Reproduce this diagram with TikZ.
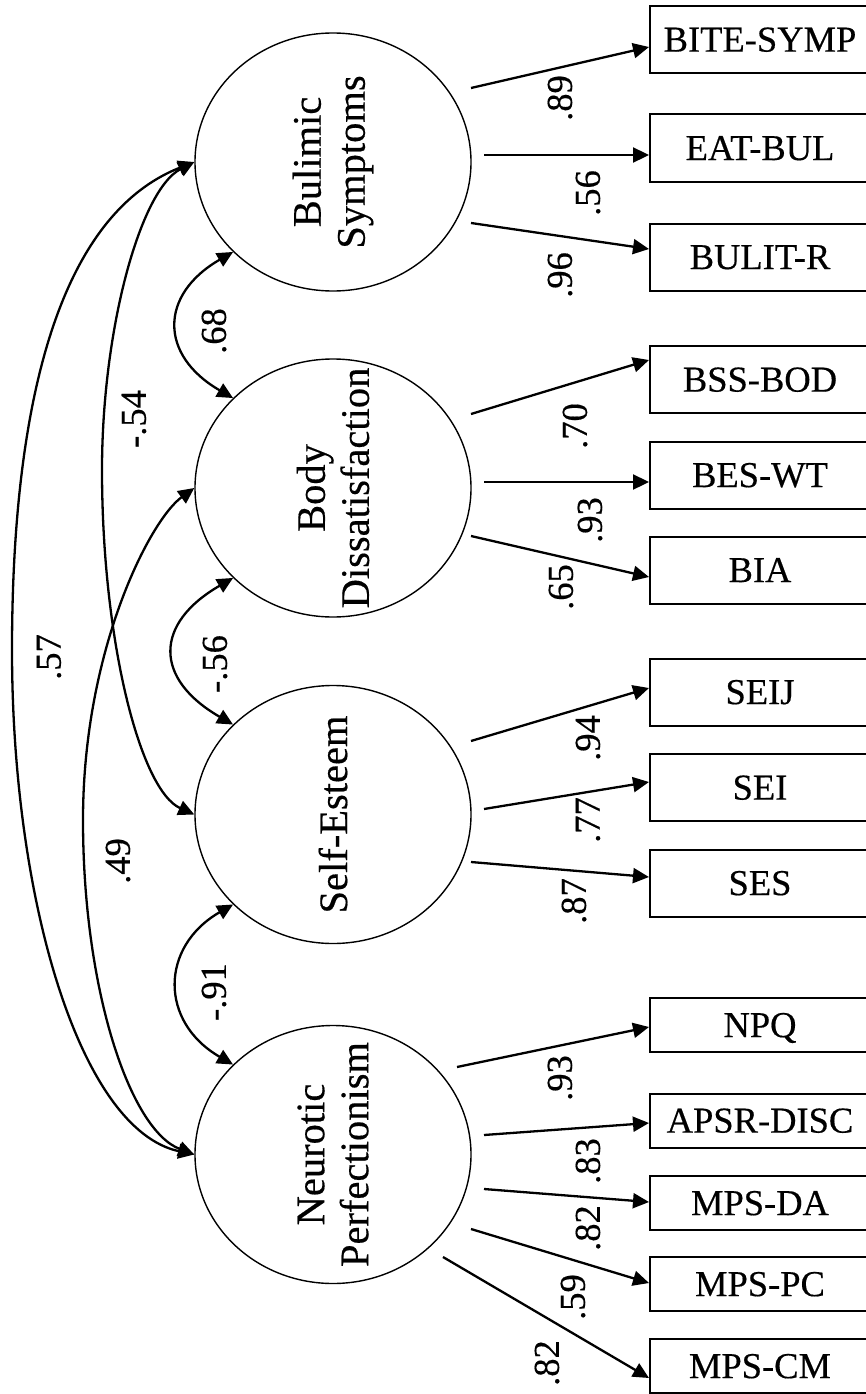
\documentclass[tikz,border=0pt]{standalone}
\usepackage{fontspec}
\setmainfont{Liberation Serif}[FakeBold=0.4]
\usetikzlibrary{arrows.meta,shapes.geometric,calc}

\begin{document}
\begin{tikzpicture}[x=1pt,y=1pt,
  latent/.style={ellipse, draw, line width=1.4pt, minimum width=276pt,
    minimum height=258pt, inner sep=0pt},
  lname/.style={rotate=90, align=center, inner sep=0pt,
    font=\fontsize{40.5}{44}\selectfont},
  indicator/.style={rectangle, draw, line width=2pt, minimum width=220pt,
    inner sep=0pt, text height=24.2pt, text depth=0pt,
    font=\fontsize{36.5}{40}\selectfont},
  indtall/.style={minimum height=67pt},
  indshort/.style={minimum height=54pt},
  coef/.style={rotate=90, inner sep=0pt, font=\fontsize{36.5}{40}\selectfont},
  tip/.tip={Triangle[length=16pt,width=15pt]},
  load/.style={line width=2.3pt, -tip},
  cov/.style={line width=2.3pt, tip-tip},
]
\useasboundingbox (0,0) rectangle (865,-1394);
\fill[white] (0,0) rectangle (865,-1394);

% latent factors
\node[latent] (bs) at (333,-162) {};
\node[latent] (bd) at (333,-488) {};
\node[latent] (se) at (333,-814.5) {};
\node[latent] (np) at (333,-1154.5) {};
\node[lname] (bs-t) at (bs) {Bulimic\\Symptoms};
\node[lname] (bd-t) at (bd) {Body\\Dissatisfaction};
\node[lname] (se-t) at (se) {Self-Esteem};
\node[lname] (np-t) at (np) {Neurotic\\Perfectionism};

% observed indicators
\node[indicator, indtall] (b1) at (760,-39.5) {BITE-SYMP};
\node[indicator, indtall] (b2) at (760,-148) {EAT-BUL};
\node[indicator, indtall] (b3) at (760,-257) {BULIT-R};
\node[indicator, indtall] (b4) at (760,-379.5) {BSS-BOD};
\node[indicator, indtall] (b5) at (760,-475) {BES-WT};
\node[indicator, indtall] (b6) at (760,-570) {BIA};
\node[indicator, indtall] (b7) at (760,-692) {SEIJ};
\node[indicator, indtall] (b8) at (760,-787.5) {SEI};
\node[indicator, indtall] (b9) at (760,-883) {SES};
\node[indicator, indshort] (b10) at (760,-1025) {NPQ};
\node[indicator, indshort] (b11) at (760,-1120.5) {APSR-DISC};
\node[indicator, indshort] (b12) at (760,-1203) {MPS-DA};
\node[indicator, indshort] (b13) at (760,-1284) {MPS-PC};
\node[indicator, indshort] (b14) at (760,-1366) {MPS-CM};

% loading arrow origins
\coordinate (s1) at ($(bs)+(138,74)$);
\coordinate (s2) at ($(bs)+(151,7)$);
\coordinate (s3) at ($(bs)+(138,-61)$);
\coordinate (s4) at ($(bd)+(138,74)$);
\coordinate (s5) at ($(bd)+(151,6)$);
\coordinate (s6) at ($(bd)+(138,-48)$);
\coordinate (s7) at ($(se)+(138,73.5)$);
\coordinate (s8) at ($(se)+(151,5.5)$);
\coordinate (s9) at ($(se)+(138,-47.5)$);
\coordinate (s10) at ($(np)+(124,87.5)$);
\coordinate (s11) at ($(np)+(151,19.5)$);
\coordinate (s12) at ($(np)+(151,-34.5)$);
\coordinate (s13) at ($(np)+(138,-74.5)$);
\coordinate (s14) at ($(np)+(110,-102.5)$);

% factor loadings
\draw[load] (s1) -- ($(b1.west)+(0,-7.5)$);
\draw[load] (s2) -- ($(b2.west)+(0,-7)$);
\draw[load] (s3) -- ($(b3.west)+(0,8)$);
\draw[load] (s4) -- ($(b4.west)+(0,19.5)$);
\draw[load] (s5) -- ($(b5.west)+(0,-7)$);
\draw[load] (s6) -- ($(b6.west)+(0,-7)$);
\draw[load] (s7) -- ($(b7.west)+(0,4)$);
\draw[load] (s8) -- ($(b8.west)+(0,5.5)$);
\draw[load] (s9) -- ($(b9.west)+(0,6)$);
\draw[load] (s10) -- ($(b10.west)+(0,-2)$);
\draw[load] (s11) -- ($(b11.west)+(0,-2.5)$);
\draw[load] (s12) -- ($(b12.west)+(0,1)$);
\draw[load] (s13) -- ($(b13.west)+(0,1)$);
\draw[load] (s14) -- ($(b14.west)+(0,-12)$);

% loading values
\node[coef] (l1) at (560,-98) {.89};
\node[coef] (l2) at (588,-193) {.56};
\node[coef] (l3) at (560,-275) {.96};
\node[coef] (l4) at (575,-426) {.70};
\node[coef] (l5) at (590,-520) {.93};
\node[coef] (l6) at (561,-587) {.65};
\node[coef] (l7) at (588,-738) {.94};
\node[coef] (l8) at (588,-820) {.77};
\node[coef] (l9) at (574,-901) {.87};
\node[coef] (l10) at (560,-1078) {.93};
\node[coef] (l11) at (588,-1161) {.83};
\node[coef] (l12) at (588,-1228) {.82};
\node[coef] (l13) at (573,-1297) {.59};
\node[coef] (l14) at (547,-1363) {.82};

% correlations between adjacent factors
\draw[cov] (bs.222) to[out=210,in=150,looseness=1.5] (bd.138);
\draw[cov] (bd.222) to[out=210,in=150,looseness=1.6] (se.138);
\draw[cov] (se.222) to[out=210,in=150,looseness=1.36] (np.138);

% long-range correlations
\draw[cov] (bs.west) .. controls (60,-215) and (12,-400) .. (12,-650)
  .. controls (12,-900) and (80,-1130) .. (np.west);
\draw[cov] (bs.west) .. controls (140,-190) and (102,-330) .. (102,-470)
  .. controls (102,-640) and (140,-790) .. (se.west);
\draw[cov] (bd.west) .. controls (150,-520) and (83,-650) .. (83,-820)
  .. controls (83,-990) and (130,-1130) .. (np.west);

% correlation values
\node[coef] (c1) at (214,-331) {.68};
\node[coef] (c2) at (215,-664) {-.56};
\node[coef] (c3) at (214,-992) {-.91};
\node[coef] (c4) at (49,-657) {.57};
\node[coef] (c5) at (134,-419) {-.54};
\node[coef] (c6) at (118,-861) {.49};
\end{tikzpicture}
\end{document}
